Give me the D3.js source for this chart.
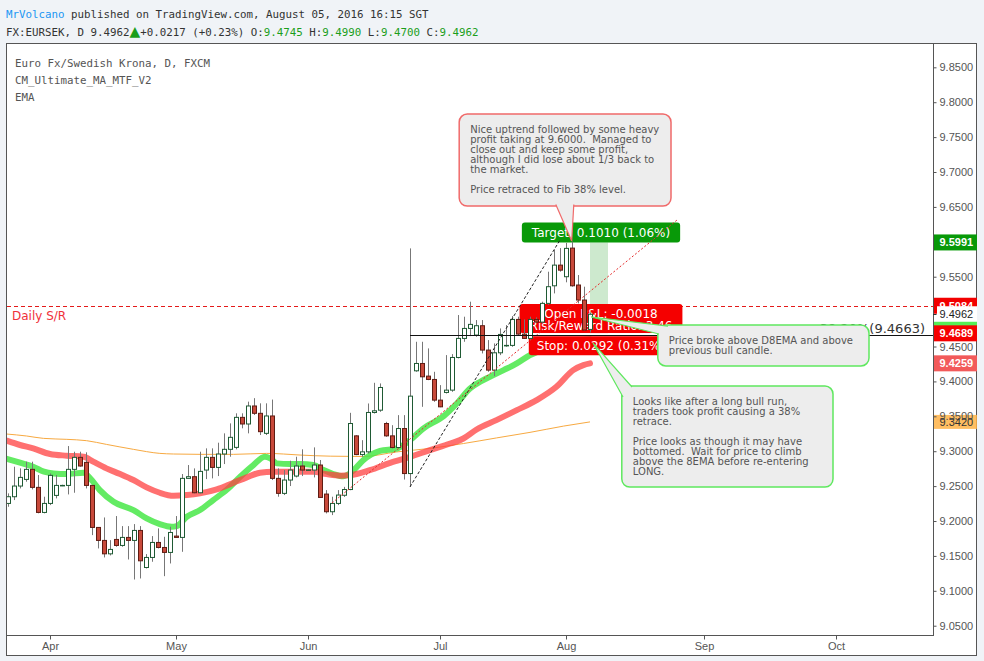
<!DOCTYPE html>
<html>
<head>
<meta charset="utf-8">
<script src="https://cdn.jsdelivr.net/npm/d3@7"></script>
<style>
  body { margin: 0; background: #f0f3f7; }
  svg { display: block; }
  text { white-space: pre; }
</style>
</head>
<body>
<div id="chart"></div>
<script>
// daily EUR/SEK bars, first bar is Wed 23 Mar 2016, weekdays only
var firstDay = new Date(2016, 2, 23);

var opens = [9.2252, 9.2348, 9.2501, 9.2596, 9.2740, 9.2482, 9.2123, 9.2252, 9.2367, 9.2510,
  9.2510, 9.2740, 9.2912, 9.2840, 9.2510, 9.1908, 9.1722, 9.1530, 9.1736, 9.1650,
  9.1765, 9.1722, 9.1865, 9.1334, 9.1478, 9.1693, 9.1621, 9.1550, 9.1784, 9.1765,
  9.2611, 9.2635, 9.2405, 9.2730, 9.2912, 9.2768, 9.2960, 9.3027, 9.3055, 9.3485,
  9.3390, 9.3648, 9.3543, 9.3256, 9.3505, 9.2611, 9.2396, 9.2587, 9.2644, 9.2788,
  9.2730, 9.2730, 9.2802, 9.2386, 9.2133, 9.2252, 9.2369, 9.2451, 9.3220, 9.2952,
  9.2991, 9.3555, 9.3588, 9.3397, 9.3220, 9.3053, 9.3325, 9.2680, 9.4152, 9.4257,
  9.4076, 9.4028, 9.3732, 9.3842, 9.3875, 9.4343, 9.4616, 9.4759, 9.4664, 9.4798,
  9.4449, 9.4162, 9.4410, 9.4510, 9.4516, 9.4888, 9.4678, 9.4616, 9.4888, 9.4850,
  9.5118, 9.5370, 9.5666, 9.5500, 9.5910, 9.5381, 9.5166, 9.4745];
var highs = [9.2396, 9.2778, 9.2754, 9.2850, 9.2850, 9.2659, 9.2348, 9.2682, 9.2659, 9.2520,
  9.3074, 9.2993, 9.2993, 9.2984, 9.2515, 9.1912, 9.2051, 9.1726, 9.2071, 9.1927,
  9.1927, 9.1956, 9.1927, 9.1526, 9.1784, 9.1894, 9.1774, 9.1918, 9.2071, 9.2673,
  9.2802, 9.2754, 9.2993, 9.3041, 9.3041, 9.3122, 9.3256, 9.3399, 9.3543, 9.3543,
  9.3710, 9.3760, 9.3686, 9.3686, 9.3740, 9.2754, 9.2730, 9.2864, 9.2921, 9.3027,
  9.2740, 9.3055, 9.2874, 9.2443, 9.2348, 9.2443, 9.2489, 9.3550, 9.3230, 9.3158,
  9.3684, 9.3980, 9.3971, 9.3421, 9.3373, 9.3517, 9.3517, 9.5906, 9.4568, 9.4568,
  9.4473, 9.4138, 9.3947, 9.4377, 9.4391, 9.4951, 9.4927, 9.5142, 9.4879, 9.4879,
  9.4592, 9.4544, 9.4759, 9.4807, 9.4936, 9.4927, 9.4888, 9.4927, 9.4917, 9.5142,
  9.5572, 9.5883, 9.5910, 9.5985, 9.6005, 9.5524, 9.5357, 9.4990];
var lows = [9.2204, 9.2300, 9.2467, 9.2563, 9.2453, 9.2110, 9.2110, 9.2228, 9.2324, 9.2500,
  9.2381, 9.2405, 9.2778, 9.2467, 9.1798, 9.1607, 9.1478, 9.1507, 9.1631, 9.1631,
  9.1449, 9.1162, 9.1177, 9.1320, 9.1416, 9.1607, 9.1210, 9.1392, 9.1760, 9.1559,
  9.2605, 9.2396, 9.2396, 9.2601, 9.2611, 9.2644, 9.2816, 9.2921, 9.3027, 9.3328,
  9.3256, 9.3519, 9.3232, 9.3232, 9.2587, 9.2348, 9.2372, 9.2501, 9.2625, 9.2644,
  9.2722, 9.2625, 9.2334, 9.2109, 9.2085, 9.2228, 9.2345, 9.2441, 9.2943, 9.2919,
  9.2967, 9.3540, 9.3564, 9.3206, 9.3039, 9.3039, 9.2594, 9.2489, 9.4138, 9.3636,
  9.4018, 9.3708, 9.3630, 9.3827, 9.3851, 9.4329, 9.4568, 9.4649, 9.4640, 9.4401,
  9.4138, 9.4076, 9.4377, 9.4496, 9.4496, 9.4664, 9.4611, 9.4592, 9.4841, 9.4831,
  9.5094, 9.5261, 9.5572, 9.5420, 9.5357, 9.5118, 9.4726, 9.4700];
var closes = [9.2348, 9.2501, 9.2625, 9.2740, 9.2482, 9.2123, 9.2252, 9.2654, 9.2510, 9.2510,
  9.2740, 9.2912, 9.2788, 9.2510, 9.1908, 9.1722, 9.1530, 9.1593, 9.1650, 9.1765,
  9.1722, 9.1865, 9.1430, 9.1478, 9.1693, 9.1621, 9.1550, 9.1836, 9.1765, 9.2611,
  9.2635, 9.2405, 9.2711, 9.2912, 9.2768, 9.2960, 9.3027, 9.3199, 9.3485, 9.3390,
  9.3648, 9.3543, 9.3280, 9.3505, 9.2611, 9.2396, 9.2587, 9.2730, 9.2788, 9.2730,
  9.2732, 9.2802, 9.2338, 9.2133, 9.2252, 9.2372, 9.2451, 9.3397, 9.2952, 9.2991,
  9.3555, 9.3579, 9.3913, 9.3220, 9.3053, 9.3325, 9.2680, 9.3789, 9.4257, 9.4066,
  9.4028, 9.3732, 9.3636, 9.3875, 9.4343, 9.4616, 9.4759, 9.4817, 9.4798, 9.4449,
  9.4162, 9.4410, 9.4673, 9.4516, 9.4888, 9.4678, 9.4616, 9.4888, 9.4850, 9.5118,
  9.5357, 9.5666, 9.5594, 9.5906, 9.5370, 9.5166, 9.4736, 9.4962];

// moving averages: [bar, value]
var emaGreen = [[-0.2, 9.2890], [2, 9.2835], [4.2, 9.2778], [6, 9.2706], [7.6, 9.2682], [9.8, 9.2673],
  [12.6, 9.2692], [13.7, 9.2611], [15.3, 9.2443], [17.6, 9.2276], [20.9, 9.2157], [23.1, 9.2037],
  [25.3, 9.1956], [27.3, 9.1918], [28.1, 9.1927], [29.8, 9.2061], [32, 9.2157], [34.2, 9.2300],
  [36.4, 9.2443], [38.7, 9.2635], [40.9, 9.2802], [42.8, 9.2921], [43.7, 9.2898], [44.8, 9.2826],
  [47, 9.2816], [48.7, 9.2816], [50.9, 9.2802], [52.6, 9.2730], [54.2, 9.2673], [55.9, 9.2642],
  [57.6, 9.2728], [59.2, 9.2871], [62, 9.3005], [64.8, 9.3039], [67, 9.3158], [69.2, 9.3325],
  [72.6, 9.3502], [74.8, 9.3684], [77, 9.3899], [78.7, 9.3995], [80.3, 9.4066], [82.6, 9.4162],
  [84.8, 9.4257], [87, 9.4377], [89, 9.4450], [91, 9.4510], [93, 9.4560], [95, 9.4590], [97, 9.4600]];
var emaRed = [[-0.2, 9.3151], [2, 9.3089], [4.2, 9.3041], [7, 9.2960], [9.8, 9.2936], [12.6, 9.2921],
  [14.2, 9.2850], [16.4, 9.2754], [18.7, 9.2673], [20.9, 9.2587], [23.1, 9.2482], [25.3, 9.2405],
  [27.6, 9.2362], [29.8, 9.2372], [32, 9.2396], [34.8, 9.2453], [37.6, 9.2549], [39.8, 9.2625],
  [42, 9.2692], [44.2, 9.2706], [47.6, 9.2706], [50.9, 9.2706], [53.1, 9.2672], [55.3, 9.2650],
  [57, 9.2656], [60.3, 9.2728], [63.7, 9.2833], [67, 9.2919], [70.3, 9.3015], [73.7, 9.3110],
  [75.9, 9.3182], [78.1, 9.3311], [81.4, 9.3445], [84.8, 9.3588], [88.1, 9.3732], [91.4, 9.3923],
  [94.2, 9.4162], [95.9, 9.4234], [97, 9.4259]];
var emaOrange = [[-0.2, 9.3246], [3.1, 9.3218], [5.9, 9.3184], [9.8, 9.3170], [13.1, 9.3151],
  [16.4, 9.3098], [20.9, 9.3027], [25.3, 9.2969], [27.6, 9.2960], [32, 9.2955], [37.6, 9.2955],
  [43.1, 9.2969], [45.9, 9.2960], [48.7, 9.2945], [53.7, 9.2929], [59.2, 9.2924], [64.8, 9.2990],
  [70.3, 9.3040], [75.9, 9.3110], [81.4, 9.3190], [87, 9.3270], [92.6, 9.3360], [97, 9.3420]];

var priceTicks = d3.range(9.05, 9.851, 0.05);

// coloured last-value labels on the price scale, drawn in this order
var priceLabels = [
  {v: 9.5991, fill: "#089908", text: "#fff", label: true},
  {v: 9.5084, fill: "#f20000", text: "#fff", label: true},
  {v: 9.4962, fill: "#ffffff", text: "#222", label: true},
  {v: 9.4740, fill: "#55ee55", text: "#fff", label: false},
  {v: 9.4689, fill: "#f50000", text: "#fff", label: true},
  {v: 9.4259, fill: "#f25a5a", text: "#fff", label: true}
];
var orangeLabel = {v: 9.3420, fill: "#ffb347", text: "#333"};

var dailySR = 9.5084;
var fibLevel = {from: 67, value: 9.4663, label: "38.20%(9.4663)"};
var blackTrend = [[67, 9.2489], [92, 9.6026]];
var redTrend = [[54, 9.2258], [111.5, 9.6312]];
var position = {from: 97, to: 100, entry: 9.4980, target: 9.5991, stop: 9.4689};

var callouts = [
  {x0: 75.2, x1: 110.5, top: 9.7831, bottom: 9.6513, border: "#f06a6a",
   apex: [93.95, 9.6011], baseA: [91.3, 9.6535], baseB: [94.3, 9.6535],
   lines: ["Nice uptrend followed by some heavy", "profit taking at 9.6000.  Managed to",
           "close out and keep some profit,", "although I did lose about 1/3 back to",
           "the market.", "", "Price retraced to Fib 38% level."]},
  {x0: 108.3, x1: 143.5, top: 9.4808, bottom: 9.4221, border: "#5fe85f",
   apex: [97.2, 9.4923], baseA: [110, 9.4793], baseB: [108.5, 9.4679],
   lines: ["Price broke above D8EMA and above", "previous bull candle."]},
  {x0: 102.3, x1: 137.5, top: 9.3934, bottom: 9.2487, border: "#5fe85f",
   apex: [97.5, 9.4550], baseA: [104, 9.3920], baseB: [102.5, 9.3777],
   lines: ["Looks like after a long bull run,", "traders took profit causing a 38%",
           "retrace.", "", "Price looks as though it may have",
           "bottomed.  Wait for price to climb", "above the 8EMA before re-entering", "LONG."]}
];

var width = 984, height = 661;
var plot = {left: 7, right: 933, top: 44, bottom: 635};

var dates = d3.timeDay.range(firstDay, new Date(2016, 10, 1))
  .filter(function(d) { return d.getDay() !== 0 && d.getDay() !== 6; });

var bars = opens.map(function(o, i) {
  return {k: i, o: o, h: highs[i], l: lows[i], c: closes[i]};
});

var x = d3.scaleLinear().domain([-1 / 6, 925 / 6]).range([plot.left, plot.right]);
var y = d3.scaleLinear().domain([9.0367, 9.8834]).range([plot.bottom, plot.top]);

var svg = d3.select("#chart").append("svg")
  .attr("width", width)
  .attr("height", height);

svg.append("rect").attr("width", width).attr("height", height).attr("fill", "#f0f3f7");

// header
var mono = "'DejaVu Sans Mono', monospace";
var h1 = svg.append("text").attr("x", 6).attr("y", 18)
  .style("font-family", mono).style("font-size", "10.8px").attr("fill", "#333");
h1.append("tspan").attr("fill", "#2196f3").text("MrVolcano");
h1.append("tspan").text(" published on TradingView.com, August 05, 2016 16:15 SGT");

var green = "#1b9e1b";
var h2 = svg.append("text").attr("x", 6).attr("y", 36)
  .style("font-family", mono).style("font-size", "10.8px").attr("fill", "#333");
[["FX:EURSEK, D 9.4962", "#333"], ["\u25B2", green], ["+0.0217 (+0.23%) O:", "#333"],
 ["9.4745", green], [" H:", "#333"], ["9.4990", green], [" L:", "#333"],
 ["9.4700", green], [" C:", "#333"], ["9.4962", green]].forEach(function(p, i) {
  var ts = h2.append("tspan").attr("fill", p[1]).text(p[0]);
  if (i === 1) ts.style("font-family", "'DejaVu Sans', sans-serif").style("font-size", "14px");
});

// panel
svg.append("rect")
  .attr("x", 6.5).attr("y", 43.5).attr("width", 970).attr("height", 612)
  .attr("fill", "#fff").attr("stroke", "#555");
svg.append("line").attr("x1", plot.right + 0.5).attr("x2", plot.right + 0.5)
  .attr("y1", plot.top).attr("y2", plot.bottom).attr("stroke", "#555");
svg.append("line").attr("x1", plot.left).attr("x2", plot.right + 1)
  .attr("y1", plot.bottom + 0.5).attr("y2", plot.bottom + 0.5).attr("stroke", "#555");

svg.append("clipPath").attr("id", "plotclip").append("rect")
  .attr("x", plot.left).attr("y", plot.top)
  .attr("width", plot.right - plot.left).attr("height", plot.bottom - plot.top);

var g = svg.append("g").attr("clip-path", "url(#plotclip)");

// legend
["Euro Fx/Swedish Krona, D, FXCM", "CM_Ultimate_MA_MTF_V2", "EMA"].forEach(function(t, i) {
  svg.append("text").attr("x", 15).attr("y", 66.5 + i * 17)
    .style("font-family", mono).style("font-size", "10.8px")
    .attr("fill", "#555").text(t);
});

// moving averages
var maLine = d3.line()
  .x(function(d) { return x(d[0]); })
  .y(function(d) { return y(d[1]); })
  .curve(d3.curveMonotoneX);

g.append("path").datum(emaOrange).attr("d", maLine)
  .attr("fill", "none").attr("stroke", "#f7a941").attr("stroke-width", 1);
g.append("path").datum(emaGreen).attr("d", maLine)
  .attr("fill", "none").attr("stroke", "#48e848").attr("stroke-opacity", 0.85)
  .attr("stroke-width", 6).attr("stroke-linecap", "round").attr("stroke-linejoin", "round");
g.append("path").datum(emaRed).attr("d", maLine)
  .attr("fill", "none").attr("stroke", "#ff4040").attr("stroke-opacity", 0.75)
  .attr("stroke-width", 6).attr("stroke-linecap", "round").attr("stroke-linejoin", "round");

// daily S/R
var srY = Math.round(y(dailySR)) + 0.5;
g.append("line").attr("x1", plot.left).attr("x2", plot.right)
  .attr("y1", srY).attr("y2", srY)
  .attr("stroke", "#e41a1a").attr("stroke-dasharray", "4,3");
g.append("text").attr("x", 12).attr("y", srY + 13)
  .style("font-family", "'DejaVu Sans', sans-serif").style("font-size", "12px")
  .attr("fill", "#f0303a").text("Daily S/R");

// long position tool
var px0 = x(position.from), px1 = x(position.to);
g.append("rect").attr("x", px0).attr("width", px1 - px0)
  .attr("y", y(position.target)).attr("height", y(position.entry) - y(position.target))
  .attr("fill", "#4caf50").attr("fill-opacity", 0.28);
g.append("rect").attr("x", px0).attr("width", px1 - px0)
  .attr("y", y(position.entry)).attr("height", y(position.stop) - y(position.entry))
  .attr("fill", "#ff5252").attr("fill-opacity", 0.25);

var labelFont = "'DejaVu Sans', sans-serif";
var pcx = (px0 + px1) / 2 + 2;
function tag(textLines, top, h, fill, pad) {
  var grp = g.append("g");
  var r = grp.append("rect").attr("y", top).attr("height", h).attr("rx", 3).attr("fill", fill);
  var maxW = 0;
  textLines.forEach(function(t) {
    var tx = grp.append("text").attr("x", pcx).attr("y", t.y)
      .attr("text-anchor", "middle").style("font-family", labelFont)
      .style("font-size", "12px").attr("fill", "#fff").text(t.s);
    maxW = Math.max(maxW, tx.node().getComputedTextLength());
  });
  r.attr("x", pcx - maxW / 2 - pad).attr("width", maxW + 2 * pad);
}
var yT = y(position.target), yE = y(position.entry), yS = y(position.stop);
tag([{s: "Target: 0.1010 (1.06%)", y: yT - 5.5}], yT - 20, 20, "#089908", 10);
tag([{s: "Open P&L: -0.0018", y: yE + 4.5}, {s: "Risk/Reward Ratio: 3.46", y: yE + 17}],
    yE - 9, 29, "#f50000", 10);
tag([{s: "Stop: 0.0292 (0.31%)", y: yS + 17}], yS + 3, 19, "#f50000", 8);

// candles
var candle = g.append("g").selectAll("g").data(bars).join("g");
candle.append("line")
  .attr("x1", function(d) { return Math.round(x(d.k)) + 0.5; })
  .attr("x2", function(d) { return Math.round(x(d.k)) + 0.5; })
  .attr("y1", function(d) { return y(d.h); })
  .attr("y2", function(d) { return y(d.l); })
  .attr("stroke", "#777");
candle.append("rect")
  .attr("x", function(d) { return Math.round(x(d.k)) - 1.5; })
  .attr("width", 4)
  .attr("y", function(d) { return y(Math.max(d.o, d.c)); })
  .attr("height", function(d) { return Math.max(0.5, Math.abs(y(d.o) - y(d.c))); })
  .attr("fill", function(d) { return d.c >= d.o ? "#fff" : "#c8493a"; })
  .attr("stroke", function(d) { return d.c >= d.o ? "#1f5a34" : "#5e1c13"; });

// trend lines
var seg = d3.line().x(function(d) { return x(d[0]); }).y(function(d) { return y(d[1]); });
g.append("path").datum(blackTrend).attr("d", seg)
  .attr("stroke", "#222").attr("stroke-dasharray", "3,2").attr("fill", "none");
g.append("path").datum(redTrend).attr("d", seg)
  .attr("stroke", "#e52b2b").attr("stroke-dasharray", "2,2").attr("fill", "none");

// fib level
var fy = Math.round(y(fibLevel.value)) + 0.5;
g.append("line").attr("x1", x(fibLevel.from)).attr("x2", plot.right)
  .attr("y1", fy).attr("y2", fy).attr("stroke", "#111");
g.append("text").attr("x", 925).attr("y", fy - 3).attr("text-anchor", "end")
  .style("font-family", labelFont).style("font-size", "13px")
  .attr("fill", "#333").text(fibLevel.label);

// callouts
callouts.forEach(function(c) {
  var bx = x(c.x0), bw = x(c.x1) - x(c.x0), by = y(c.top), bh = y(c.bottom) - y(c.top);
  g.append("rect").attr("x", bx).attr("y", by).attr("width", bw).attr("height", bh)
    .attr("rx", 8).attr("fill", "#ededed").attr("stroke", c.border).attr("stroke-width", 1.5);
  g.append("path")
    .attr("d", "M" + x(c.baseA[0]) + "," + y(c.baseA[1]) +
               "L" + x(c.apex[0]) + "," + y(c.apex[1]) +
               "L" + x(c.baseB[0]) + "," + y(c.baseB[1]))
    .attr("fill", "#ededed").attr("stroke", c.border).attr("stroke-width", 1.2);
  var t = g.append("text").attr("x", bx + 11).attr("y", by + 18.5)
    .style("font-family", labelFont).style("font-size", "10px").attr("fill", "#555");
  c.lines.forEach(function(line, i) {
    t.append("tspan").attr("x", bx + 11).attr("y", by + 18.5 + i * 10).text(line);
  });
});

// price scale
var axisFont = "'Liberation Sans', Arial, sans-serif";
var ax = svg.append("g");
ax.append("rect").attr("x", plot.right + 1).attr("width", 43)
  .attr("y", y(orangeLabel.v) - 7).attr("height", 14)
  .attr("fill", orangeLabel.fill).attr("fill-opacity", 0.85);

// tick texts that sit fully under an opaque label are not drawn
var shownTicks = priceTicks.filter(function(t) {
  return !priceLabels.some(function(p) { return p.label && Math.abs(y(p.v) - y(t)) < 6; });
});
var yAxis = ax.append("g").attr("transform", "translate(" + (plot.right + 0.5) + ",0)")
  .call(d3.axisRight(y).tickValues(shownTicks).tickSize(3).tickFormat(d3.format(".4f")));
yAxis.select(".domain").remove();
yAxis.selectAll("line").attr("stroke", "#555");
yAxis.selectAll("text").attr("fill", "#555")
  .style("font-family", axisFont).style("font-size", "11px");

ax.append("text").attr("x", plot.right + 6.5).attr("y", y(orangeLabel.v)).attr("dy", "0.35em")
  .style("font-family", axisFont).style("font-size", "11px")
  .attr("fill", orangeLabel.text).text(orangeLabel.v.toFixed(4));

priceLabels.forEach(function(p) {
  var cy = y(p.v);
  var white = p.fill === "#ffffff";
  ax.append("rect").attr("x", white ? plot.right + 4 : plot.right + 1)
    .attr("width", white ? 40 : 43).attr("y", cy - 8).attr("height", 16)
    .attr("fill", p.fill);
  if (white) {
    ax.append("line").attr("x1", plot.right).attr("x2", plot.right + 3.5)
      .attr("y1", Math.round(cy) + 0.5).attr("y2", Math.round(cy) + 0.5).attr("stroke", "#333");
  }
  if (p.label) {
    ax.append("text").attr("x", plot.right + 6.5).attr("y", cy).attr("dy", "0.35em")
      .style("font-family", axisFont).style("font-size", "11px")
      .style("font-weight", white ? "normal" : "bold")
      .attr("fill", p.text).text(p.v.toFixed(4));
  }
});

// time scale
var monthStarts = d3.range(1, dates.length).filter(function(k) {
  return dates[k].getMonth() !== dates[k - 1].getMonth() && x(k) < plot.right;
});
var xAxis = svg.append("g").attr("transform", "translate(0," + (plot.bottom + 0.5) + ")")
  .call(d3.axisBottom(x).tickValues(monthStarts).tickSize(4)
    .tickFormat(function(k) { return d3.timeFormat("%b")(dates[k]); }));
xAxis.select(".domain").remove();
xAxis.selectAll("line").attr("stroke", "#555");
xAxis.selectAll("text").attr("fill", "#555")
  .style("font-family", axisFont).style("font-size", "11px");
</script>
</body>
</html>
